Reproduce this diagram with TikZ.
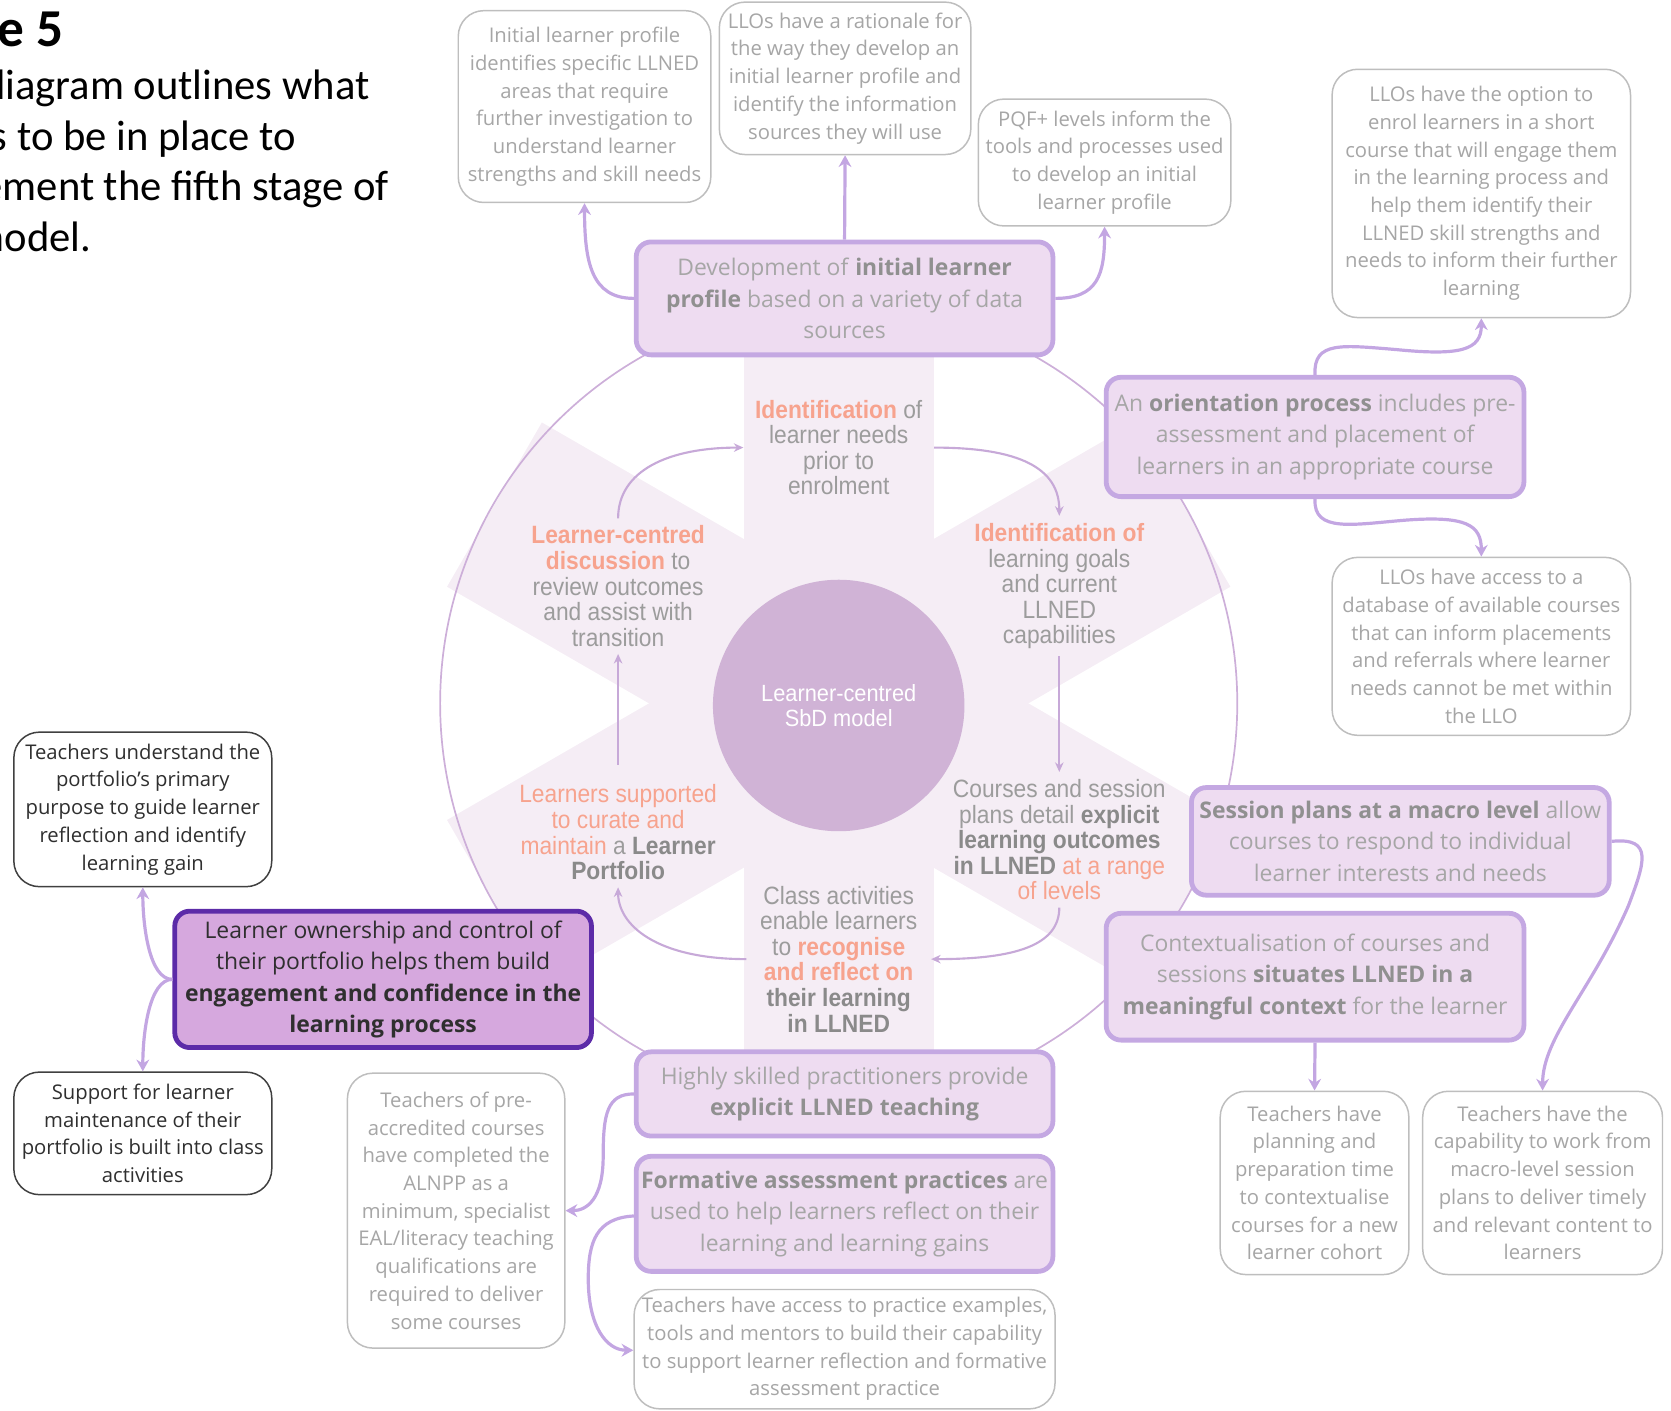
\documentclass[tikz,border=0pt]{standalone}
\usepackage{fontspec}
\setmainfont{Open Sans}
\newfontfamily\stagefont[FakeStretch=0.91]{Liberation Sans}
\newfontfamily\hubfont[FakeStretch=0.93]{Liberation Sans}
\newfontfamily\titlefont{Carlito}
\usetikzlibrary{arrows.meta}

\definecolor{boxfill}{HTML}{EEDCF1}
\definecolor{boxedge}{HTML}{C4A8E2}
\definecolor{linkcol}{HTML}{C3A6E2}
\definecolor{softtext}{HTML}{A6A6A6}
\definecolor{softbold}{HTML}{909090}
\definecolor{paleedge}{HTML}{BEBEBE}
\definecolor{darkedge}{HTML}{404040}
\definecolor{darktext}{HTML}{2F2F2F}
\definecolor{ownfill}{HTML}{D6A8DE}
\definecolor{ownedge}{HTML}{5C2BA8}
\definecolor{starfill}{HTML}{F5EDF5}
\definecolor{ringcol}{HTML}{CDAFD9}
\definecolor{hubfill}{HTML}{D0B3D6}
\definecolor{salmon}{HTML}{F7A38E}
\definecolor{stagetext}{HTML}{9C9C9C}
\definecolor{stagebold}{HTML}{8A8A8A}
\definecolor{cyclecol}{HTML}{C7A9D8}

\newcommand{\key}[1]{\textbf{\color{softbold}#1}}
\newcommand{\sal}[1]{{\color{salmon}#1}}
\newcommand{\salb}[1]{{\color{salmon}\bfseries #1}}
\newcommand{\stb}[1]{{\color{stagebold}\bfseries #1}}

\tikzset{
  softbox/.style={draw=boxedge, line width=4.5pt, fill=boxfill, rounded corners=14pt,
    align=center, text=softtext, font=\fontsize{21.5}{29.5}\selectfont, inner sep=0pt},
  plainbox/.style={draw=paleedge, line width=1.4pt, fill=white, rounded corners=24pt,
    align=center, text=softtext, font=\fontsize{19}{26}\selectfont, inner sep=0pt},
  darkbox/.style={plainbox, draw=darkedge, text=darktext},
  ownbox/.style={softbox, draw=ownedge, fill=ownfill, text=darktext},
  stage/.style={align=center, text=stagetext, font=\stagefont\fontsize{23.5}{24}\selectfont,
    inner sep=0pt, outer sep=7pt},
  joinline/.style={draw=linkcol, line width=3pt, -{Stealth[length=11pt,width=12pt]}},
  loopline/.style={draw=cyclecol, line width=2pt, -{Stealth[length=9pt,width=8pt]}},
  titleline/.style={anchor=base east, font=\titlefont\fontsize{40}{48}\selectfont, inner sep=0pt},
}

\begin{document}
\begin{tikzpicture}[x=1pt,y=-1pt]
\useasboundingbox (0,0) rectangle (1568,1324);

% heading
\node[titleline, font=\titlefont\bfseries\fontsize{50}{54}\selectfont] (head) at (60,44) {Figure 5};
\node[titleline] (cap1) at (347,93) {The diagram outlines what};
\node[titleline] (cap2) at (278,141) {needs to be in place to};
\node[titleline] (cap3) at (365,188) {implement the fifth stage of};
\node[titleline] (cap4) at (86,236) {the model.};

% six-armed star behind the wheel
\foreach \ang in {90,30,-30}{
  \begin{scope}[shift={(787,660)}, rotate=\ang]
    \fill[starfill] (-373,-89) rectangle (373,89);
  \end{scope}
}
% outer ring
\draw[ringcol, line width=1.6pt] (787,660) circle[radius=374];

% hub
\node[circle, fill=hubfill, minimum size=236pt, inner sep=0pt, align=center, text=white,
  font=\hubfont\fontsize{22}{23.5}\selectfont] (hub) at (787,662) {Learner-centred\\SbD model};

% stages of the cycle
\node[stage] (t1) at (787,420) {\salb{Identification} of\\learner needs\\prior to\\enrolment};
\node[stage] (t2) at (994,550) {\salb{Identification of}\\learning goals\\and current\\LLNED\\capabilities};
\node[stage] (t3) at (994,788) {Courses and session\\plans detail \stb{explicit}\\\stb{learning outcomes}\\\stb{in LLNED} \sal{at a range}\\\sal{of levels}};
\node[stage] (t4) at (787,900) {Class activities\\enable learners\\to \salb{recognise}\\\salb{and reflect on}\\\stb{their learning}\\\stb{in LLNED}};
\node[stage] (t5) at (580,781) {\sal{Learners supported}\\\sal{to curate and}\\\sal{maintain} a \stb{Learner}\\\stb{Portfolio}};
\node[stage] (t6) at (580,550) {\salb{Learner-centred}\\\salb{discussion} to\\review outcomes\\and assist with\\transition};

\draw[loopline] (t6.north) .. controls +(0,-45) and +(-70,0) .. ([xshift=-4pt]t1.west);
\draw[loopline] ([xshift=4pt]t1.east) .. controls +(80,0) and +(0,-45) .. (t2.north);
\draw[loopline] (t2.south) -- (t3.north);
\draw[loopline] (t3.south) .. controls +(0,35) and +(80,0) .. ([xshift=6pt]t4.east);
\draw[loopline] ([xshift=-6pt]t4.west) .. controls +(-85,0) and +(0,35) .. (t5.south);
\draw[loopline] ([yshift=12pt]t5.north) -- (t6.south);

% top cluster
\node[plainbox, minimum width=237pt, minimum height=180pt] (a1) at (548.5,100)
  {Initial learner profile\\identifies specific LLNED\\areas that require\\further investigation to\\understand learner\\strengths and skill needs};
\node[plainbox, minimum width=236pt, minimum height=143pt] (a2) at (793,73.5)
  {LLOs have a rationale for\\the way they develop an\\initial learner profile and\\identify the information\\sources they will use};
\node[plainbox, minimum width=237pt, minimum height=119pt] (a3) at (1036.5,152.5)
  {PQF+ levels inform the\\tools and processes used\\to develop an initial\\learner profile};
\node[softbox, minimum width=391pt, minimum height=106pt] (dev) at (792.5,280)
  {Development of \key{initial learner}\\\key{profile} based on a variety of data\\sources};

\draw[joinline] (dev.west) .. controls +(-40,0) and +(0,55) .. (a1.south);
\draw[joinline] (dev.north) -- (a2.south);
\draw[joinline] (dev.east) .. controls +(40,0) and +(0,45) .. (a3.south);

% right cluster
\node[plainbox, minimum width=280pt, minimum height=233pt] (b1) at (1390,181.5)
  {LLOs have the option to\\enrol learners in a short\\course that will engage them\\in the learning process and\\help them identify their\\LLNED skill strengths and\\needs to inform their further\\learning};
\node[softbox, minimum width=392pt, minimum height=112pt] (orient) at (1234,410)
  {An \key{orientation process} includes pre-\\assessment and placement of\\learners in an appropriate course};
\node[plainbox, minimum width=280pt, minimum height=167pt] (b2) at (1390,606.5)
  {LLOs have access to a\\database of available courses\\that can inform placements\\and referrals where learner\\needs cannot be met within\\the LLO};

\draw[joinline] (orient.north) .. controls +(-2,-32) and +(-50,-4) .. (1310,328)
  .. controls +(60,6) and +(0,30) .. (b1.south);
\draw[joinline] (orient.south) .. controls +(-2,32) and +(-50,4) .. (1320,488)
  .. controls +(55,-4) and +(0,-30) .. (b2.north);

\node[softbox, minimum width=392pt, minimum height=101pt] (plans) at (1314,789.5)
  {\key{Session plans at a macro level} allow\\courses to respond to individual\\learner interests and needs};
\node[softbox, minimum width=392pt, minimum height=119pt] (context) at (1234,916.5)
  {Contextualisation of courses and\\sessions \key{situates LLNED in a}\\\key{meaningful context} for the learner};
\node[plainbox, minimum width=177pt, minimum height=172pt] (c1) at (1233.5,1110)
  {Teachers have\\planning and\\preparation time\\to contextualise\\courses for a new\\learner cohort};
\node[plainbox, minimum width=225pt, minimum height=172pt] (c2) at (1447.5,1110)
  {Teachers have the\\capability to work from\\macro-level session\\plans to deliver timely\\and relevant content to\\learners};

\draw[joinline] (context.south) -- (c1.north);
\draw[joinline] (plans.east) .. controls +(40,-4) and +(15,-40) .. (1528,850)
  .. controls +(-35,80) and +(0,-50) .. (c2.north);

% bottom cluster
\node[softbox, minimum width=391pt, minimum height=79pt] (skilled) at (792.5,1026.5)
  {Highly skilled practitioners provide\\\key{explicit LLNED teaching}};
\node[softbox, minimum width=391pt, minimum height=108pt] (formative) at (792.5,1139)
  {\key{Formative assessment practices} are\\used to help learners reflect on their\\learning and learning gains};
\node[plainbox, minimum width=395pt, minimum height=112pt] (d1) at (792.5,1266)
  {Teachers have access to practice examples,\\tools and mentors to build their capability\\to support learner reflection and formative\\assessment practice};
\node[plainbox, minimum width=204pt, minimum height=258pt] (d0) at (428,1136)
  {Teachers of pre-\\accredited courses\\have completed the\\ALNPP as a\\minimum, specialist\\EAL/literacy teaching\\qualifications are\\required to deliver\\some courses};

\draw[joinline] (skilled.west) .. controls +(-25,0) and +(0,-40) .. (566,1085)
  .. controls +(0,40) and +(20,0) .. (d0.east);
\draw[joinline] ([yshift=-2pt]formative.west) .. controls +(-35,2) and +(0,-35) .. (552,1200)
  .. controls +(0,45) and +(-25,0) .. ([yshift=-1pt]d1.west);

% left cluster
\node[ownbox, minimum width=391pt, minimum height=128pt] (own) at (359.5,919)
  {Learner ownership and control of\\their portfolio helps them build\\\textbf{engagement and confidence in the}\\\textbf{learning process}};
\node[darkbox, minimum width=242pt, minimum height=145pt] (e1) at (134,759.5)
  {Teachers understand the\\portfolio's primary\\purpose to guide learner\\reflection and identify\\learning gain};
\node[darkbox, minimum width=242pt, minimum height=115pt] (e2) at (134,1063.5)
  {Support for learner\\maintenance of their\\portfolio is built into class\\activities};

\draw[joinline] (own.west) .. controls +(-22,0) and +(0,35) .. (e1.south);
\draw[joinline] (own.west) .. controls +(-22,0) and +(0,-35) .. (e2.north);

\end{tikzpicture}
\end{document}
